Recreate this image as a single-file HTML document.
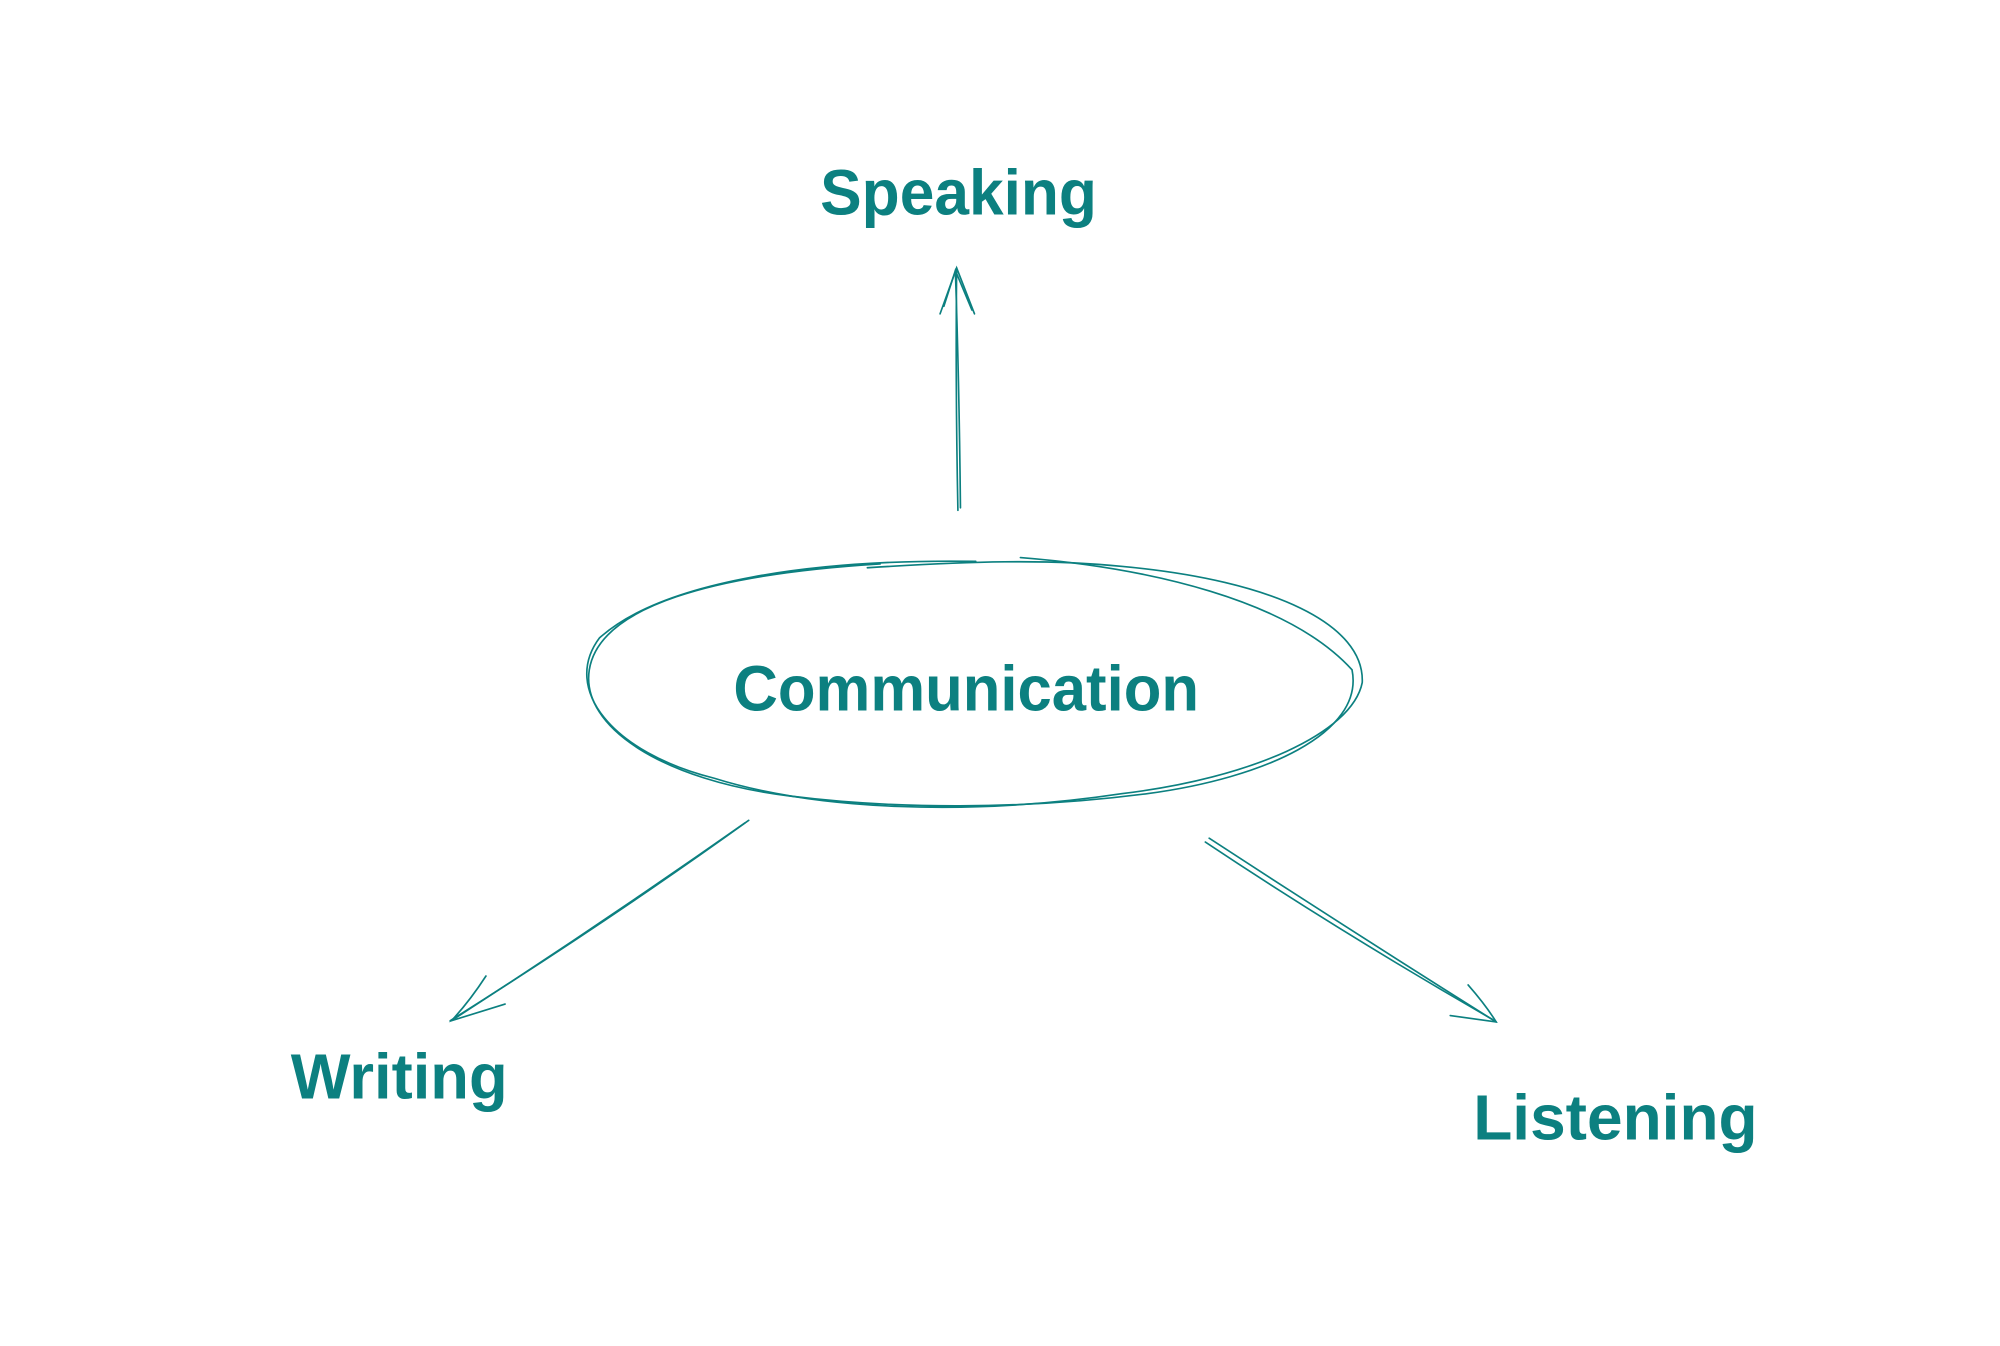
<!DOCTYPE html>
<html><head><style>html,body{margin:0;padding:0;background:#fff;}svg{display:block}</style></head>
<body>
<svg width="2000" height="1346" viewBox="0 0 1568 1055" preserveAspectRatio="none" xmlns="http://www.w3.org/2000/svg">
<g fill="none" stroke="#0c8080" stroke-width="1.3" stroke-linecap="round">
<path d="M751 400 Q749 300 750 210"/>
<path d="M753 398 Q752 300 749 212"/>
<path d="M737 246 L750 210 L764 246"/>
<path d="M740 240 L749 212 L762 243"/>
<path d="M765 440 C640 438 520 455 470 500 C440 540 480 590 560 610 C640 635 760 640 880 622 C980 610 1060 575 1068 535 C1070 490 1000 455 880 444 C820 438 760 440 680 445"/>
<path d="M800 437 C900 445 1010 470 1060 525 C1070 575 990 610 900 622 C800 635 700 634 620 624 C520 612 455 570 462 525 C470 475 560 450 690 442"/>
<path d="M587 643 Q480 720 353 800"/>
<path d="M584 645 Q470 725 357 798"/>
<path d="M381 765 Q368 785 354 800 L396 787"/>
<path d="M948 657 Q1060 730 1173 801"/>
<path d="M945 660 Q1050 730 1170 799"/>
<path d="M1151 772 Q1165 788 1173 801 L1137 796"/>
</g>
<g fill="#0c8080" font-family="'Liberation Sans', sans-serif" font-weight="bold">
<text x="643" y="168" font-size="50" textLength="217" lengthAdjust="spacingAndGlyphs">Speaking</text>
<text x="575" y="557" font-size="50" textLength="365" lengthAdjust="spacingAndGlyphs">Communication</text>
<text x="228" y="861" font-size="50" textLength="170" lengthAdjust="spacingAndGlyphs">Writing</text>
<text x="1155" y="893" font-size="50" textLength="223" lengthAdjust="spacingAndGlyphs">Listening</text>
</g>
</svg>
</body></html>
